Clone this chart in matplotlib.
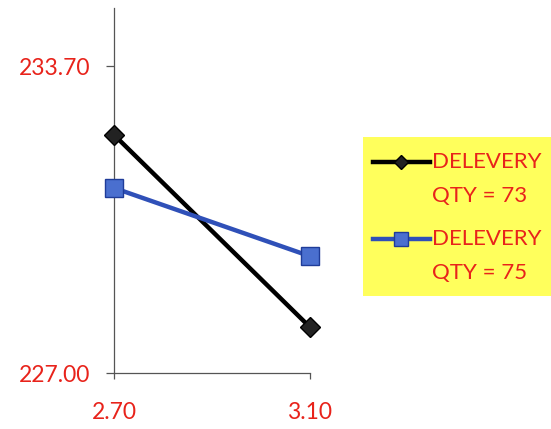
import matplotlib
matplotlib.use("Agg")
import matplotlib.pyplot as plt
from matplotlib.lines import Line2D
from matplotlib.patches import Rectangle

# data
x_values = [2.70, 3.10]
qty73 = [232.20, 228.00]
qty75 = [231.04, 229.55]
series_labels = ["DELEVERY\nQTY = 73", "DELEVERY\nQTY = 75"]
y_ticks = [227.00, 233.70]
x_ticks = [2.70, 3.10]

RED = "#E8231B"
BLUE_LINE = "#2F50B8"
BLUE_FACE = "#4A6FCF"
FONT = ["Lato", "DejaVu Sans"]

W, H = 551, 429
fig = plt.figure(figsize=(W / 100, H / 100), dpi=100)
ax = fig.add_axes([114 / W, (H - 373) / H, (310 - 114) / W, (373 - 8) / H])

ax.plot(x_values, qty73, color="black", lw=3.2, marker="D", markersize=10,
        markerfacecolor="#222222", markeredgecolor="black", zorder=3)
ax.plot(x_values, qty75, color=BLUE_LINE, lw=3.2, marker="s", markersize=13,
        markerfacecolor=BLUE_FACE, markeredgecolor="#1F3C99", zorder=3)

ax.set_xlim(2.70, 3.10)
ax.set_ylim(227.0, 234.97)
ax.set_xticks(x_ticks)
ax.set_xticklabels([f"{v:.2f}" for v in x_ticks])
ax.set_yticks(y_ticks)
ax.set_yticklabels([f"{v:.2f}" for v in y_ticks])
for s in ["top", "right"]:
    ax.spines[s].set_visible(False)
for s in ["left", "bottom"]:
    ax.spines[s].set_color("#555555")
    ax.spines[s].set_linewidth(0.9)
ax.tick_params(axis="y", direction="out", length=6, width=0.9, color="#555555",
               pad=11, labelcolor=RED, labelsize=16.5)
ax.tick_params(axis="x", direction="out", length=4, width=0.9, color="#555555",
               pad=17, labelcolor=RED, labelsize=16.5)
for lab in ax.get_xticklabels() + ax.get_yticklabels():
    lab.set_family(FONT)
for l in ax.lines:
    l.set_clip_on(False)

# manual legend (yellow box)
def fx(px):
    return px / W

def fy(py):
    return (H - py) / H

fig.patches.append(Rectangle((fx(363), fy(296)), fx(551) - fx(363), fy(137) - fy(296),
                             transform=fig.transFigure, facecolor="#FFFF5C",
                             edgecolor="none", zorder=0))
handles = [
    dict(color="black", marker="D", ms=7, mfc="#222222", mec="black"),
    dict(color=BLUE_LINE, marker="s", ms=10, mfc=BLUE_FACE, mec="#1F3C99"),
]
rows = [(162, 196), (239, 273)]
for lab, h, (y1, y2) in zip(series_labels, handles, rows):
    fig.add_artist(Line2D([fx(373), fx(430)], [fy(y1), fy(y1)], transform=fig.transFigure,
                          color=h["color"], lw=3.2))
    fig.add_artist(Line2D([fx(401)], [fy(y1)], transform=fig.transFigure, color=h["color"],
                          marker=h["marker"], markersize=h["ms"], markerfacecolor=h["mfc"],
                          markeredgecolor=h["mec"], lw=0))
    l1, l2 = lab.split("\n")
    fig.text(fx(432), fy(y1), l1, color=RED, fontsize=16, family=FONT, va="center", ha="left")
    fig.text(fx(432), fy(y2), l2, color=RED, fontsize=16, family=FONT, va="center", ha="left")

fig.savefig("out.png", dpi=100)
